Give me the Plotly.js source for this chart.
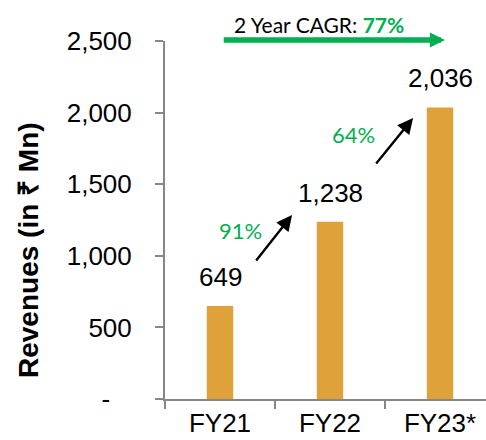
<!DOCTYPE html>
<html>
<head>
<meta charset="utf-8">
<script src="https://cdn.plot.ly/plotly-3.0.1.min.js"></script>
<style>html,body{margin:0;padding:0;background:#fff;}#chart{width:486px;height:440px;}</style>
</head>
<body>
<div id="chart"></div>
<script>
const categories = ['FY21', 'FY22', 'FY23*'];
const revenues = [649, 1238, 2036];
const valueLabels = ['649', '1,238', '2,036'];
const growthLabels = ['91%', '64%'];
const cagrLabel = '77%';
const yTickVals = [0, 500, 1000, 1500, 2000, 2500];
const yTickText = ['-\u00A0\u00A0\u00A0', '500', '1,000', '1,500', '2,000', '2,500'];

const FONT = 'Liberation Sans, Arial, sans-serif';
const GREEN = '#00B050';
const BAR = '#DFA23B';
const AXIS = '#878787';

const trace = {
  type: 'bar',
  x: categories,
  y: revenues,
  width: 0.24,
  marker: {color: BAR},
  hoverinfo: 'skip'
};

const annotations = [];
categories.forEach((c, i) => {
  annotations.push({
    x: c, y: revenues[i], xref: 'x', yref: 'y',
    text: valueLabels[i], showarrow: false,
    yanchor: 'bottom', yshift: 12,
    font: {family: FONT, size: 26, color: '#000'}
  });
});
// growth arrows
annotations.push({x: 0.655, y: 1285, ax: 0.318, ay: 957, xref: 'x', yref: 'y', axref: 'x', ayref: 'y',
  showarrow: true, arrowhead: 2, arrowsize: 1.3, arrowwidth: 2.4, arrowcolor: '#000', text: ''});
annotations.push({x: 1.755, y: 1962, ax: 1.409, ay: 1634, xref: 'x', yref: 'y', axref: 'x', ayref: 'y',
  showarrow: true, arrowhead: 2, arrowsize: 1.3, arrowwidth: 2.4, arrowcolor: '#000', text: ''});
annotations.push({x: 0.182, y: 1180, xref: 'x', yref: 'y', text: growthLabels[0], showarrow: false,
  font: {family: 'Lato, sans-serif', size: 22, color: GREEN}});
annotations.push({x: 1.218, y: 1844, xref: 'x', yref: 'y', text: growthLabels[1], showarrow: false,
  font: {family: 'Lato, sans-serif', size: 22, color: GREEN}});
// CAGR arrow (above the plot area)
annotations.push({x: 2.045, y: (399 - 40) / 358, ax: 0.02, ay: 0, xref: 'x', yref: 'paper', axref: 'x', ayref: 'pixel',
  showarrow: true, arrowhead: 2, arrowsize: 0.55, arrowwidth: 5.5, arrowcolor: GREEN, text: ''});
annotations.push({x: 0.9, y: (399 - 24) / 358, xref: 'x', yref: 'paper', xanchor: 'center', yanchor: 'middle',
  showarrow: false,
  text: '2 Year CAGR: <b><span style="color:' + GREEN + '">' + cagrLabel + '</span></b>',
  font: {family: 'Lato, sans-serif', size: 21, color: '#000'}});
// y-axis title
annotations.push({
  xref: 'paper', yref: 'paper',
  x: -137 / 321, y: (399 - 250) / 358,
  xanchor: 'center', yanchor: 'middle',
  textangle: -90, showarrow: false,
  text: '<b>Revenues (in ₹ Mn)</b>',
  font: {family: FONT, size: 28, color: '#000'}
});

const layout = {
  width: 486, height: 440,
  margin: {l: 165, r: 0, t: 41, b: 41, pad: 0},
  paper_bgcolor: '#fff', plot_bgcolor: '#fff',
  showlegend: false,
  font: {family: FONT, size: 26, color: '#000'},
  xaxis: {
    type: 'category', range: [-0.5, 2.418],
    showgrid: false, zeroline: false,
    showline: true, linecolor: AXIS, linewidth: 2,
    ticks: 'outside', tickson: 'boundaries', ticklen: 8, tickwidth: 2, tickcolor: AXIS,
    tickfont: {family: FONT, size: 26, color: '#000'},
    ticklabelstandoff: 0,
    fixedrange: true
  },
  yaxis: {
    range: [0, 2500],
    tickvals: yTickVals, ticktext: yTickText,
    showgrid: false, zeroline: false,
    showline: true, linecolor: AXIS, linewidth: 2,
    ticks: 'outside', ticklen: 8, tickwidth: 2, tickcolor: AXIS,
    tickfont: {family: FONT, size: 26, color: '#000'},
    ticklabelstandoff: 18,
    title: {text: ''},
    fixedrange: true
  },
  annotations: annotations
};

Plotly.newPlot('chart', [trace], layout, {displayModeBar: false, staticPlot: true});
</script>
</body>
</html>
